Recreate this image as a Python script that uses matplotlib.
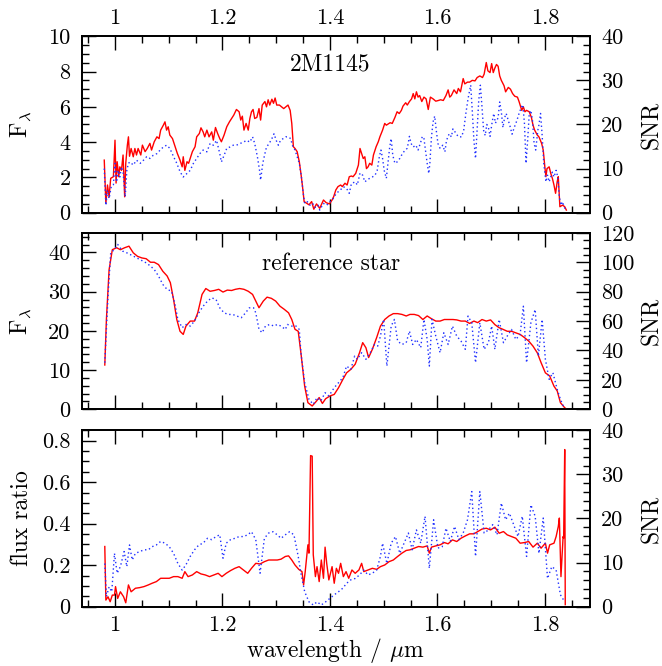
import numpy as np
import matplotlib
matplotlib.use('Agg')
import matplotlib.pyplot as plt
from matplotlib.ticker import MultipleLocator, FuncFormatter

plt.rcParams['font.family'] = 'cmr10'
plt.rcParams['mathtext.fontset'] = 'cm'
plt.rcParams['axes.formatter.use_mathtext'] = True
plt.rcParams['font.size'] = 16

# wavelength [um], value pairs
# 2M1145: flux and SNR
flux_2m = np.array([
    [0.980, 2.98], [0.983, 0.53], [0.986, 1.57], [0.989, 0.90], [0.992, 1.95], [0.997, 2.04],
    [1.000, 4.11], [1.002, 1.68], [1.004, 2.89], [1.007, 2.04], [1.009, 2.60], [1.012, 2.40],
    [1.015, 3.27], [1.018, 0.90], [1.020, 2.80], [1.023, 3.83], [1.025, 4.30], [1.027, 3.20],
    [1.030, 3.64], [1.034, 3.17], [1.037, 3.64], [1.040, 3.27], [1.043, 3.64], [1.048, 3.27],
    [1.051, 3.83], [1.056, 3.46], [1.060, 3.64], [1.065, 3.93], [1.068, 3.55], [1.073, 4.02],
    [1.078, 4.30], [1.082, 4.20], [1.085, 4.68], [1.090, 4.96], [1.093, 5.15], [1.096, 4.68],
    [1.099, 4.87], [1.102, 4.40], [1.107, 4.20], [1.112, 3.74], [1.116, 3.36], [1.121, 2.98],
    [1.125, 2.60], [1.127, 3.17], [1.130, 2.40], [1.134, 2.89], [1.137, 2.80], [1.141, 3.17],
    [1.144, 3.46], [1.149, 3.74], [1.152, 4.30], [1.157, 4.49], [1.160, 4.81], [1.164, 4.58],
    [1.167, 4.30], [1.171, 4.68], [1.175, 4.30], [1.180, 4.58], [1.183, 4.11], [1.187, 4.83],
    [1.191, 4.49], [1.195, 4.20], [1.198, 4.02], [1.203, 4.40], [1.208, 4.87], [1.213, 5.15],
    [1.217, 5.34], [1.221, 5.53], [1.226, 5.85], [1.231, 5.72], [1.234, 5.25], [1.237, 5.47],
    [1.240, 4.68], [1.244, 5.06], [1.248, 4.68], [1.251, 5.34], [1.254, 5.72], [1.257, 5.85],
    [1.260, 5.34], [1.264, 5.40], [1.268, 5.90], [1.271, 5.25], [1.274, 6.10], [1.279, 6.30],
    [1.282, 6.00], [1.285, 6.40], [1.288, 6.10], [1.292, 6.43], [1.295, 6.20], [1.298, 6.50],
    [1.301, 6.10], [1.306, 6.10], [1.310, 6.00], [1.314, 5.90], [1.318, 6.00], [1.322, 6.10],
    [1.326, 5.80], [1.329, 5.06], [1.332, 3.74], [1.335, 3.64], [1.339, 3.46], [1.343, 2.89],
    [1.346, 2.23], [1.349, 1.48], [1.352, 0.63], [1.357, 0.53], [1.361, 0.45], [1.366, 0.63],
    [1.370, 0.20], [1.375, 0.50], [1.381, 0.25], [1.388, 0.72], [1.393, 0.57], [1.399, 0.50],
    [1.404, 0.72], [1.407, 0.91], [1.411, 1.29], [1.415, 1.48], [1.420, 1.57], [1.423, 1.48],
    [1.428, 1.67], [1.432, 1.57], [1.436, 2.04], [1.440, 2.08], [1.443, 2.04], [1.448, 2.23],
    [1.453, 2.70], [1.456, 3.64], [1.459, 3.36], [1.462, 3.07], [1.465, 3.17], [1.468, 2.50],
    [1.471, 2.60], [1.474, 2.80], [1.478, 2.70], [1.481, 3.27], [1.486, 3.74], [1.490, 4.02],
    [1.493, 4.30], [1.498, 4.68], [1.502, 5.06], [1.505, 4.96], [1.512, 5.10], [1.516, 5.06],
    [1.521, 5.40], [1.525, 5.72], [1.529, 5.62], [1.533, 5.80], [1.536, 6.04], [1.541, 6.23],
    [1.544, 6.10], [1.548, 6.30], [1.552, 6.45], [1.555, 6.75], [1.558, 6.45], [1.561, 6.85],
    [1.564, 6.55], [1.567, 6.64], [1.571, 6.30], [1.575, 6.55], [1.579, 6.45], [1.583, 5.85],
    [1.587, 6.55], [1.592, 6.45], [1.597, 6.32], [1.602, 6.36], [1.606, 6.40], [1.611, 6.36],
    [1.616, 6.64], [1.620, 6.96], [1.623, 6.55], [1.626, 6.64], [1.631, 6.96], [1.636, 6.75],
    [1.639, 7.04], [1.643, 6.85], [1.648, 7.60], [1.651, 7.30], [1.656, 7.40], [1.660, 7.40],
    [1.665, 7.50], [1.670, 7.47], [1.674, 7.66], [1.679, 7.75], [1.684, 7.66], [1.687, 7.85],
    [1.691, 8.51], [1.694, 8.04], [1.698, 7.94], [1.701, 8.45], [1.704, 7.94], [1.707, 8.20],
    [1.710, 8.40], [1.713, 8.30], [1.716, 7.75], [1.719, 7.50], [1.724, 7.20], [1.727, 6.85],
    [1.732, 7.10], [1.736, 7.00], [1.740, 6.75], [1.744, 6.60], [1.749, 6.55], [1.752, 6.30],
    [1.757, 5.80], [1.760, 6.00], [1.763, 5.72], [1.766, 5.80], [1.771, 5.72], [1.775, 5.40],
    [1.778, 4.96], [1.781, 4.68], [1.786, 4.40], [1.789, 4.30], [1.794, 3.93], [1.797, 3.55],
    [1.800, 2.60], [1.802, 2.04], [1.804, 2.50], [1.808, 2.60], [1.811, 2.23], [1.814, 1.95],
    [1.817, 1.57], [1.820, 1.10], [1.823, 1.76], [1.825, 2.04], [1.828, 0.34], [1.833, 0.43],
    [1.837, 0.34], [1.840, 0.15]])

snr_2m = np.array([
    [0.980, 10.0], [0.983, 1.7], [0.986, 5.1], [0.989, 3.2], [0.993, 5.9], [0.997, 6.3],
    [1.000, 11.2], [1.003, 7.0], [1.006, 9.6], [1.009, 8.1], [1.012, 10.4], [1.015, 9.2],
    [1.019, 3.6], [1.022, 9.6], [1.025, 11.2], [1.028, 11.5], [1.034, 10.8], [1.040, 11.9],
    [1.047, 11.2], [1.053, 11.9], [1.059, 12.7], [1.065, 12.3], [1.071, 13.0], [1.078, 13.4],
    [1.084, 14.2], [1.090, 14.9], [1.096, 15.3], [1.102, 14.6], [1.109, 12.7], [1.115, 11.2],
    [1.121, 9.3], [1.127, 8.1], [1.134, 8.9], [1.140, 9.6], [1.146, 11.2], [1.152, 12.3],
    [1.158, 13.4], [1.164, 14.2], [1.171, 13.8], [1.177, 15.7], [1.183, 15.3], [1.189, 16.4],
    [1.195, 13.4], [1.198, 11.5], [1.203, 13.0], [1.208, 14.6], [1.214, 14.9], [1.220, 15.3],
    [1.226, 15.3], [1.233, 15.7], [1.239, 16.0], [1.245, 16.4], [1.251, 16.0], [1.256, 17.2],
    [1.260, 15.7], [1.265, 12.7], [1.269, 9.6], [1.271, 7.4], [1.275, 11.2], [1.279, 13.4],
    [1.282, 14.9], [1.287, 15.7], [1.292, 16.8], [1.296, 17.9], [1.300, 16.4], [1.304, 15.3],
    [1.308, 16.4], [1.313, 16.8], [1.318, 17.2], [1.322, 17.2], [1.327, 16.8], [1.330, 15.3],
    [1.335, 14.2], [1.339, 12.7], [1.343, 11.2], [1.347, 8.1], [1.350, 4.7], [1.353, 2.1],
    [1.358, 2.5], [1.363, 1.7], [1.368, 2.1], [1.372, 1.2], [1.378, 1.7], [1.381, 0.6],
    [1.388, 2.1], [1.394, 1.7], [1.400, 2.5], [1.406, 3.2], [1.412, 4.4], [1.419, 5.1],
    [1.425, 5.9], [1.431, 5.5], [1.436, 4.4], [1.440, 6.6], [1.447, 7.0], [1.451, 6.3],
    [1.456, 9.0], [1.461, 8.5], [1.465, 7.0], [1.469, 7.4], [1.474, 7.8], [1.479, 8.1],
    [1.484, 8.5], [1.488, 9.6], [1.492, 12.7], [1.495, 14.2], [1.498, 12.3], [1.501, 9.6],
    [1.505, 7.8], [1.508, 11.2], [1.511, 14.6], [1.514, 16.8], [1.517, 13.0], [1.521, 11.2],
    [1.525, 11.5], [1.530, 12.3], [1.535, 13.4], [1.540, 14.2], [1.544, 14.6], [1.548, 17.3],
    [1.551, 15.7], [1.555, 14.9], [1.560, 15.3], [1.564, 14.2], [1.569, 16.0], [1.572, 17.3],
    [1.575, 16.8], [1.579, 13.0], [1.581, 11.2], [1.584, 8.9], [1.586, 11.2], [1.589, 17.2],
    [1.592, 20.6], [1.595, 21.9], [1.598, 18.6], [1.601, 15.7], [1.605, 14.6], [1.610, 15.3],
    [1.614, 13.8], [1.617, 16.4], [1.622, 17.9], [1.626, 17.2], [1.629, 19.0], [1.635, 17.9],
    [1.639, 17.2], [1.645, 17.2], [1.649, 18.7], [1.653, 22.5], [1.657, 25.8], [1.662, 28.9],
    [1.665, 23.0], [1.668, 16.4], [1.671, 12.3], [1.674, 18.7], [1.677, 25.5], [1.680, 28.9],
    [1.683, 24.0], [1.686, 18.7], [1.689, 17.5], [1.692, 20.0], [1.695, 19.3], [1.698, 17.3],
    [1.702, 20.6], [1.705, 22.5], [1.708, 20.3], [1.713, 21.5], [1.716, 25.1], [1.719, 22.9],
    [1.722, 19.3], [1.725, 21.5], [1.728, 22.5], [1.732, 20.9], [1.735, 19.7], [1.739, 17.8],
    [1.743, 19.3], [1.748, 20.9], [1.752, 22.5], [1.756, 23.8], [1.759, 24.5], [1.762, 20.3],
    [1.765, 11.2], [1.768, 16.4], [1.771, 22.5], [1.774, 23.2], [1.777, 20.9], [1.780, 15.7],
    [1.783, 14.2], [1.787, 18.7], [1.789, 19.9], [1.792, 22.5], [1.795, 17.5], [1.798, 11.2],
    [1.802, 7.0], [1.805, 8.5], [1.808, 7.0], [1.811, 8.1], [1.814, 9.2], [1.817, 8.1],
    [1.821, 9.6], [1.824, 8.1], [1.827, 3.6], [1.830, 1.7], [1.833, 2.5], [1.836, 1.3],
    [1.839, 0.6]])

# reference star: flux and SNR
flux_ref = np.array([
    [0.981, 11.3], [0.984, 22.9], [0.989, 35.6], [0.995, 40.7], [1.003, 41.2], [1.010, 40.7],
    [1.018, 41.2], [1.026, 41.6], [1.034, 39.9], [1.042, 39.0], [1.050, 38.6], [1.058, 38.4],
    [1.066, 37.5], [1.073, 37.5], [1.081, 36.9], [1.089, 35.2], [1.097, 34.0], [1.103, 32.3],
    [1.109, 28.0], [1.115, 22.9], [1.121, 19.9], [1.127, 19.1], [1.132, 21.2], [1.140, 22.5],
    [1.148, 22.5], [1.154, 24.6], [1.162, 29.3], [1.169, 30.8], [1.177, 30.1], [1.185, 30.3],
    [1.193, 30.6], [1.201, 29.9], [1.209, 30.4], [1.217, 30.3], [1.224, 30.6], [1.232, 30.8],
    [1.240, 30.6], [1.248, 30.1], [1.256, 29.3], [1.262, 27.6], [1.268, 25.9], [1.276, 27.6],
    [1.283, 28.6], [1.291, 28.3], [1.299, 27.6], [1.307, 26.3], [1.315, 25.5], [1.323, 24.6],
    [1.329, 22.9], [1.335, 20.4], [1.341, 19.9], [1.346, 14.4], [1.353, 5.9], [1.359, 1.7],
    [1.367, 0.85], [1.375, 2.1], [1.380, 3.0], [1.386, 1.5], [1.392, 2.7], [1.400, 3.4],
    [1.408, 3.8], [1.416, 5.5], [1.424, 7.6], [1.431, 9.3], [1.439, 10.2], [1.447, 11.5],
    [1.455, 14.4], [1.461, 17.0], [1.467, 15.7], [1.472, 13.2], [1.479, 15.3], [1.487, 18.3],
    [1.494, 21.2], [1.502, 22.9], [1.510, 23.8], [1.518, 24.4], [1.526, 24.4], [1.534, 24.2],
    [1.542, 23.8], [1.549, 24.2], [1.557, 24.2], [1.565, 23.9], [1.573, 22.9], [1.581, 23.8],
    [1.589, 23.1], [1.597, 22.5], [1.605, 22.5], [1.613, 22.9], [1.621, 22.9], [1.629, 22.9],
    [1.636, 22.8], [1.644, 22.5], [1.652, 22.5], [1.660, 21.9], [1.668, 22.5], [1.675, 22.1],
    [1.683, 22.9], [1.691, 22.5], [1.699, 22.8], [1.707, 21.6], [1.715, 20.8], [1.722, 20.4],
    [1.730, 19.9], [1.738, 19.9], [1.746, 19.5], [1.754, 19.1], [1.762, 18.3], [1.770, 17.4],
    [1.778, 16.1], [1.786, 14.4], [1.793, 11.9], [1.801, 9.3], [1.809, 8.5], [1.817, 5.9],
    [1.823, 4.7], [1.829, 1.7], [1.837, 0.4], [1.841, 0.0]])

snr_ref = np.array([
    [0.981, 31.7], [0.987, 77.0], [0.992, 106.4], [0.999, 108.7], [1.005, 112.1], [1.014, 107.6],
    [1.022, 106.4], [1.034, 104.2], [1.046, 101.9], [1.058, 99.6], [1.066, 97.4], [1.073, 95.1],
    [1.081, 90.6], [1.089, 84.9], [1.097, 81.5], [1.105, 80.4], [1.111, 72.4], [1.117, 61.1],
    [1.125, 55.5], [1.132, 57.7], [1.140, 56.6], [1.148, 60.0], [1.156, 65.6], [1.164, 70.1],
    [1.172, 73.5], [1.180, 75.8], [1.188, 74.7], [1.195, 69.0], [1.203, 65.6], [1.211, 64.5],
    [1.219, 64.5], [1.227, 63.4], [1.235, 62.3], [1.243, 65.6], [1.250, 69.0], [1.258, 69.0],
    [1.262, 65.6], [1.268, 54.3], [1.274, 52.1], [1.280, 56.6], [1.288, 57.7], [1.296, 56.6],
    [1.302, 57.7], [1.309, 56.6], [1.317, 54.3], [1.321, 57.7], [1.329, 56.6], [1.337, 56.6],
    [1.343, 54.3], [1.346, 38.5], [1.353, 18.1], [1.361, 6.8], [1.369, 3.4], [1.376, 7.9],
    [1.383, 5.7], [1.391, 11.3], [1.398, 9.1], [1.408, 14.7], [1.416, 18.1], [1.424, 21.5],
    [1.431, 29.4], [1.439, 27.2], [1.446, 36.2], [1.451, 34.0], [1.459, 38.5], [1.467, 34.0],
    [1.475, 38.5], [1.483, 44.1], [1.489, 43.0], [1.494, 49.8], [1.500, 61.1], [1.506, 29.4],
    [1.514, 56.6], [1.520, 61.1], [1.526, 46.4], [1.534, 44.1], [1.542, 45.3], [1.548, 53.2],
    [1.554, 44.1], [1.561, 47.5], [1.569, 41.9], [1.575, 61.1], [1.581, 47.5], [1.585, 29.4],
    [1.590, 61.1], [1.597, 49.8], [1.605, 38.5], [1.612, 52.1], [1.620, 44.1], [1.628, 56.6],
    [1.636, 49.8], [1.644, 46.4], [1.652, 40.8], [1.657, 63.4], [1.664, 58.8], [1.671, 31.7],
    [1.679, 58.8], [1.687, 40.8], [1.695, 45.3], [1.701, 56.6], [1.707, 40.8], [1.715, 61.1],
    [1.723, 45.3], [1.730, 49.8], [1.738, 54.3], [1.746, 47.5], [1.754, 50.9], [1.760, 70.1],
    [1.766, 31.7], [1.774, 58.8], [1.782, 67.9], [1.788, 36.2], [1.795, 61.1], [1.801, 34.0],
    [1.808, 20.4], [1.815, 24.9], [1.823, 13.6], [1.829, 6.8], [1.837, 0.0]])

# flux ratio 2M1145 / reference and its SNR
ratio = np.array([
    [0.981, 0.290], [0.983, 0.032], [0.987, 0.048], [0.991, 0.024], [0.995, 0.056], [0.999, 0.056],
    [1.001, 0.097], [1.005, 0.040], [1.010, 0.072], [1.016, 0.048], [1.020, 0.019], [1.025, 0.105],
    [1.030, 0.072], [1.038, 0.089], [1.046, 0.092], [1.054, 0.097], [1.062, 0.105], [1.069, 0.113],
    [1.077, 0.121], [1.085, 0.137], [1.093, 0.137], [1.101, 0.137], [1.109, 0.145], [1.117, 0.145],
    [1.125, 0.137], [1.130, 0.169], [1.136, 0.145], [1.144, 0.153], [1.152, 0.169], [1.160, 0.158],
    [1.168, 0.153], [1.176, 0.145], [1.184, 0.153], [1.192, 0.161], [1.199, 0.145], [1.207, 0.161],
    [1.215, 0.174], [1.223, 0.185], [1.231, 0.193], [1.239, 0.177], [1.247, 0.161], [1.254, 0.185],
    [1.262, 0.209], [1.270, 0.206], [1.278, 0.217], [1.286, 0.225], [1.294, 0.225], [1.302, 0.225],
    [1.309, 0.229], [1.317, 0.242], [1.323, 0.245], [1.329, 0.225], [1.335, 0.201], [1.342, 0.180],
    [1.348, 0.169], [1.351, 0.105], [1.354, 0.169], [1.359, 0.298], [1.361, 0.258], [1.364, 0.728],
    [1.367, 0.725], [1.369, 0.250], [1.373, 0.145], [1.376, 0.193], [1.380, 0.121], [1.384, 0.225],
    [1.388, 0.137], [1.391, 0.287], [1.394, 0.209], [1.398, 0.129], [1.404, 0.193], [1.408, 0.113],
    [1.412, 0.185], [1.416, 0.161], [1.420, 0.209], [1.425, 0.145], [1.430, 0.169], [1.435, 0.137],
    [1.441, 0.177], [1.447, 0.161], [1.454, 0.177], [1.459, 0.209], [1.463, 0.169], [1.471, 0.177],
    [1.479, 0.185], [1.487, 0.180], [1.494, 0.193], [1.502, 0.201], [1.510, 0.217], [1.518, 0.225],
    [1.526, 0.242], [1.534, 0.258], [1.542, 0.271], [1.549, 0.274], [1.557, 0.282], [1.565, 0.290],
    [1.573, 0.287], [1.581, 0.293], [1.585, 0.258], [1.589, 0.287], [1.597, 0.293], [1.605, 0.298],
    [1.613, 0.309], [1.620, 0.303], [1.628, 0.322], [1.636, 0.314], [1.644, 0.330], [1.652, 0.341],
    [1.660, 0.351], [1.668, 0.351], [1.675, 0.362], [1.683, 0.374], [1.691, 0.378], [1.699, 0.370],
    [1.707, 0.383], [1.715, 0.354], [1.723, 0.362], [1.730, 0.346], [1.738, 0.338], [1.746, 0.330],
    [1.754, 0.306], [1.762, 0.309], [1.770, 0.314], [1.778, 0.287], [1.786, 0.306], [1.793, 0.282],
    [1.801, 0.306], [1.805, 0.258], [1.809, 0.298], [1.817, 0.306], [1.821, 0.338], [1.825, 0.386],
    [1.827, 0.427], [1.830, 0.145], [1.834, 0.338], [1.835, 0.330], [1.837, 0.757], [1.838, 0.010]])

snr_ratio = np.array([
    [0.981, 9.8], [0.984, 2.3], [0.989, 4.5], [0.994, 3.4], [0.999, 12.1], [1.004, 7.6],
    [1.010, 9.1], [1.017, 12.5], [1.022, 9.1], [1.027, 14.0], [1.032, 10.6], [1.038, 12.1],
    [1.046, 12.5], [1.054, 12.9], [1.062, 12.9], [1.069, 13.6], [1.077, 14.0], [1.085, 14.8],
    [1.093, 14.4], [1.101, 13.6], [1.109, 12.1], [1.117, 9.8], [1.125, 8.3], [1.132, 9.5],
    [1.140, 11.4], [1.148, 12.9], [1.156, 14.0], [1.164, 14.4], [1.172, 15.5], [1.180, 15.2],
    [1.188, 15.9], [1.195, 16.3], [1.201, 11.0], [1.207, 14.4], [1.215, 15.2], [1.223, 15.5],
    [1.231, 15.9], [1.239, 15.9], [1.247, 16.3], [1.254, 17.0], [1.262, 15.2], [1.270, 7.6],
    [1.278, 15.5], [1.286, 16.7], [1.294, 17.0], [1.302, 16.3], [1.309, 15.5], [1.317, 16.3],
    [1.325, 17.0], [1.333, 16.3], [1.341, 11.4], [1.346, 7.6], [1.353, 3.4], [1.361, 1.1],
    [1.369, 0.4], [1.376, 1.1], [1.384, 0.4], [1.392, 1.1], [1.400, 1.9], [1.408, 2.7],
    [1.416, 3.4], [1.424, 4.2], [1.431, 5.3], [1.439, 6.1], [1.447, 6.4], [1.455, 7.2],
    [1.463, 8.3], [1.471, 7.2], [1.479, 7.6], [1.487, 8.3], [1.494, 11.4], [1.498, 14.4],
    [1.506, 9.8], [1.514, 14.4], [1.522, 15.9], [1.530, 12.1], [1.538, 14.4], [1.546, 16.7],
    [1.553, 12.9], [1.561, 17.4], [1.569, 14.4], [1.577, 20.5], [1.585, 8.7], [1.593, 19.7],
    [1.601, 13.3], [1.609, 13.6], [1.616, 17.8], [1.624, 14.8], [1.632, 18.2], [1.640, 15.2],
    [1.648, 16.7], [1.656, 19.7], [1.664, 26.1], [1.671, 11.4], [1.679, 26.1], [1.687, 16.7],
    [1.695, 17.4], [1.703, 18.6], [1.711, 16.3], [1.719, 23.5], [1.727, 19.7], [1.734, 21.2],
    [1.742, 18.6], [1.750, 15.9], [1.758, 20.5], [1.766, 11.4], [1.774, 23.1], [1.782, 20.5],
    [1.789, 12.1], [1.797, 20.1], [1.805, 6.4], [1.813, 9.1], [1.821, 8.3], [1.829, 2.7],
    [1.837, 1.1]])

xlim = (0.938, 1.884)
left_ylims = [(0, 10), (0, 45), (0, 0.85)]
right_ylims = [(0, 40), (0, 120), (0, 40)]
left_ticks = [(2, 0.5), (10, 2), (0.2, 0.05)]
right_ticks = [(10, 2), (20, 5), (10, 2)]
left_labels = [r'$\mathrm{F}_\lambda$', r'$\mathrm{F}_\lambda$', 'flux ratio']
panel_names = ['2M1145', 'reference star', None]
series = [(flux_2m, snr_2m), (flux_ref, snr_ref), (ratio, snr_ratio)]

fmt = FuncFormatter(lambda v, p: '%g' % round(v, 3))

fig = plt.figure(figsize=(6.62, 6.66), dpi=100)
bottoms = [0.6806, 0.3854, 0.0890]
name_pos = [(0.489, 0.839), (0.490, 0.825)]

for i in range(3):
    ax = fig.add_axes([0.1234, bottoms[i], 0.7678, 0.265])
    ax2 = ax.twinx()
    left, right = series[i]
    ax.plot(left[:, 0], left[:, 1], color='red', lw=1.0, zorder=3)
    ax2.plot(right[:, 0], right[:, 1], color='#2030ff', lw=1.0, ls=(0, (1, 2)))
    ax.set_xlim(*xlim)
    ax.set_ylim(*left_ylims[i])
    ax2.set_ylim(*right_ylims[i])

    ax.xaxis.set_major_locator(MultipleLocator(0.2))
    ax.xaxis.set_minor_locator(MultipleLocator(0.05))
    ax.xaxis.set_major_formatter(fmt)
    ax.yaxis.set_major_locator(MultipleLocator(left_ticks[i][0]))
    ax.yaxis.set_minor_locator(MultipleLocator(left_ticks[i][1]))
    ax.yaxis.set_major_formatter(fmt)
    ax2.yaxis.set_major_locator(MultipleLocator(right_ticks[i][0]))
    ax2.yaxis.set_minor_locator(MultipleLocator(right_ticks[i][1]))
    ax2.yaxis.set_major_formatter(fmt)

    ax.tick_params(which='both', direction='in', top=True, bottom=True,
                   left=True, right=False, width=1.0, labelsize=16,
                   labeltop=(i == 0), labelbottom=(i == 2))
    ax.tick_params(which='major', length=10, pad=8)
    ax.tick_params(which='minor', length=5)
    ax.tick_params(axis='x', which='major', pad=6)
    ax2.tick_params(which='both', direction='in', right=True, left=False,
                    width=1.0, labelsize=16)
    ax2.tick_params(which='major', length=10, pad=8)
    ax2.tick_params(which='minor', length=5)

    for a in (ax, ax2):
        for s in a.spines.values():
            s.set_linewidth(1.3)

    ax.set_ylabel(left_labels[i], fontsize=17)
    ax.yaxis.set_label_coords(-0.095, 0.5)
    ax2.set_ylabel('SNR', fontsize=17)
    ax2.yaxis.set_label_coords(1.1, 0.5)

    if panel_names[i]:
        ax.text(name_pos[i][0], name_pos[i][1], panel_names[i], transform=ax.transAxes,
                ha='center', va='center', fontsize=17)
    if i == 2:
        ax.set_xlabel(r'wavelength / $\mu$m', fontsize=17, labelpad=1)

fig.savefig('out.png', dpi=100)
